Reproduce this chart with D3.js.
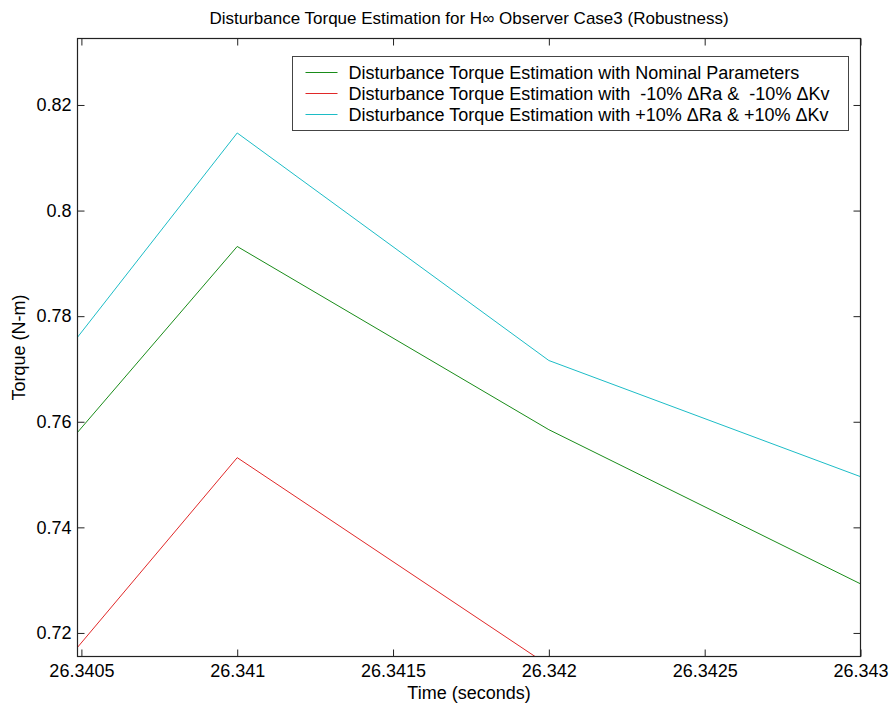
<!DOCTYPE html>
<html>
<head>
<meta charset="utf-8">
<script src="https://cdn.jsdelivr.net/npm/d3@7"></script>
<style>
  html, body { margin: 0; padding: 0; background: #fff; }
  svg { display: block; }
  text { font-family: "Liberation Sans", Arial, Helvetica, sans-serif; fill: #000; }
</style>
</head>
<body>
<svg id="chart" width="890" height="708"></svg>
<script>
// Sample times (s) and the three torque estimates (N-m)
const time = [26.340, 26.341, 26.342, 26.343];
const nominal = [0.7245, 0.7932, 0.7585, 0.7293];
const minus10 = [0.6831, 0.7532, 0.7138, 0.6990];
const plus10 = [0.7392, 0.8147, 0.7716, 0.7496];

const seriesNames = [
  "Disturbance Torque Estimation with Nominal Parameters",
  "Disturbance Torque Estimation with  -10% \u0394Ra &  -10% \u0394Kv",
  "Disturbance Torque Estimation with +10% \u0394Ra & +10% \u0394Kv"
];
const seriesColors = ["#198c19", "#e02828", "#1cbcc6"];

const xTicks = [26.3405, 26.341, 26.3415, 26.342, 26.3425, 26.343];
const xTickLabels = ["26.3405", "26.341", "26.3415", "26.342", "26.3425", "26.343"];
const yTicks = [0.72, 0.74, 0.76, 0.78, 0.80, 0.82];
const yTickLabels = ["0.72", "0.74", "0.76", "0.78", "0.8", "0.82"];

const xDomain = [26.3404875, 26.343];
const yDomain = [0.71554, 0.83259];

const svg = d3.select("#chart");
const plot = { left: 77.5, right: 860.5, top: 38.5, bottom: 656.5 };

const x = d3.scaleLinear().domain(xDomain).range([plot.left, plot.right]);
const y = d3.scaleLinear().domain(yDomain).range([plot.bottom, plot.top]);

const fs = 18;

// clip for the data lines
svg.append("defs").append("clipPath").attr("id", "plotClip")
  .append("rect")
  .attr("x", plot.left).attr("y", plot.top)
  .attr("width", plot.right - plot.left).attr("height", plot.bottom - plot.top);

// series
const series = [nominal, minus10, plus10];
const line = d3.line().x((d, i) => x(time[i])).y(d => y(d));
const lines = svg.append("g").attr("clip-path", "url(#plotClip)");
series.forEach((vals, k) => {
  lines.append("path")
    .attr("d", line(vals))
    .attr("fill", "none")
    .attr("stroke", seriesColors[k])
    .attr("stroke-width", 1);
});

// axes with inward ticks on all four sides
const tickLen = 7;
const xFmt = (d, i) => xTickLabels[i];
const yFmt = (d, i) => yTickLabels[i];

const gB = svg.append("g").attr("transform", `translate(0,${plot.bottom})`)
  .call(d3.axisBottom(x).tickValues(xTicks).tickFormat(xFmt)
    .tickSizeInner(-tickLen).tickSizeOuter(0).tickPadding(8));
const gT = svg.append("g").attr("transform", `translate(0,${plot.top})`)
  .call(d3.axisTop(x).tickValues(xTicks).tickFormat("")
    .tickSizeInner(-tickLen).tickSizeOuter(0));
const gL = svg.append("g").attr("transform", `translate(${plot.left},0)`)
  .call(d3.axisLeft(y).tickValues(yTicks).tickFormat(yFmt)
    .tickSizeInner(-tickLen).tickSizeOuter(0).tickPadding(6));
const gR = svg.append("g").attr("transform", `translate(${plot.right},0)`)
  .call(d3.axisRight(y).tickValues(yTicks).tickFormat("")
    .tickSizeInner(-tickLen).tickSizeOuter(0));

[gB, gT, gL, gR].forEach(g => {
  g.select(".domain").remove();
  g.selectAll(".tick line").attr("stroke", "#222").attr("stroke-width", 1);
  g.selectAll("text").attr("font-size", fs).attr("fill", "#000")
    .style("font-family", "'Liberation Sans', Arial, sans-serif");
});

// axes box
svg.append("rect")
  .attr("x", plot.left).attr("y", plot.top)
  .attr("width", plot.right - plot.left).attr("height", plot.bottom - plot.top)
  .attr("fill", "none").attr("stroke", "#222").attr("stroke-width", 1.2);

// title and axis labels
const cx = (plot.left + plot.right) / 2;
svg.append("text").attr("x", cx).attr("y", 24)
  .attr("text-anchor", "middle").attr("font-size", 17)
  .text("Disturbance Torque Estimation for H\u221E Observer Case3 (Robustness)");
svg.append("text").attr("x", cx).attr("y", 699)
  .attr("text-anchor", "middle").attr("font-size", fs)
  .text("Time (seconds)");
svg.append("text")
  .attr("transform", `translate(25,${(plot.top + plot.bottom) / 2}) rotate(-90)`)
  .attr("text-anchor", "middle").attr("font-size", fs)
  .text("Torque (N-m)");

// legend
const leg = { x: 292.5, y: 56.5, w: 556, h: 74 };
const lg = svg.append("g");
lg.append("rect")
  .attr("x", leg.x).attr("y", leg.y).attr("width", leg.w).attr("height", leg.h)
  .attr("fill", "#fff").attr("stroke", "#444").attr("stroke-width", 1);
seriesNames.forEach((name, k) => {
  const ry = leg.y + 16 + k * 21;
  lg.append("line")
    .attr("x1", leg.x + 13).attr("x2", leg.x + 45)
    .attr("y1", ry).attr("y2", ry)
    .attr("stroke", seriesColors[k]).attr("stroke-width", 1.2);
  lg.append("text")
    .attr("x", leg.x + 56).attr("y", ry).attr("dy", "0.35em")
    .attr("font-size", fs)
    .attr("xml:space", "preserve").style("white-space", "pre")
    .text(name);
});
</script>
</body>
</html>
